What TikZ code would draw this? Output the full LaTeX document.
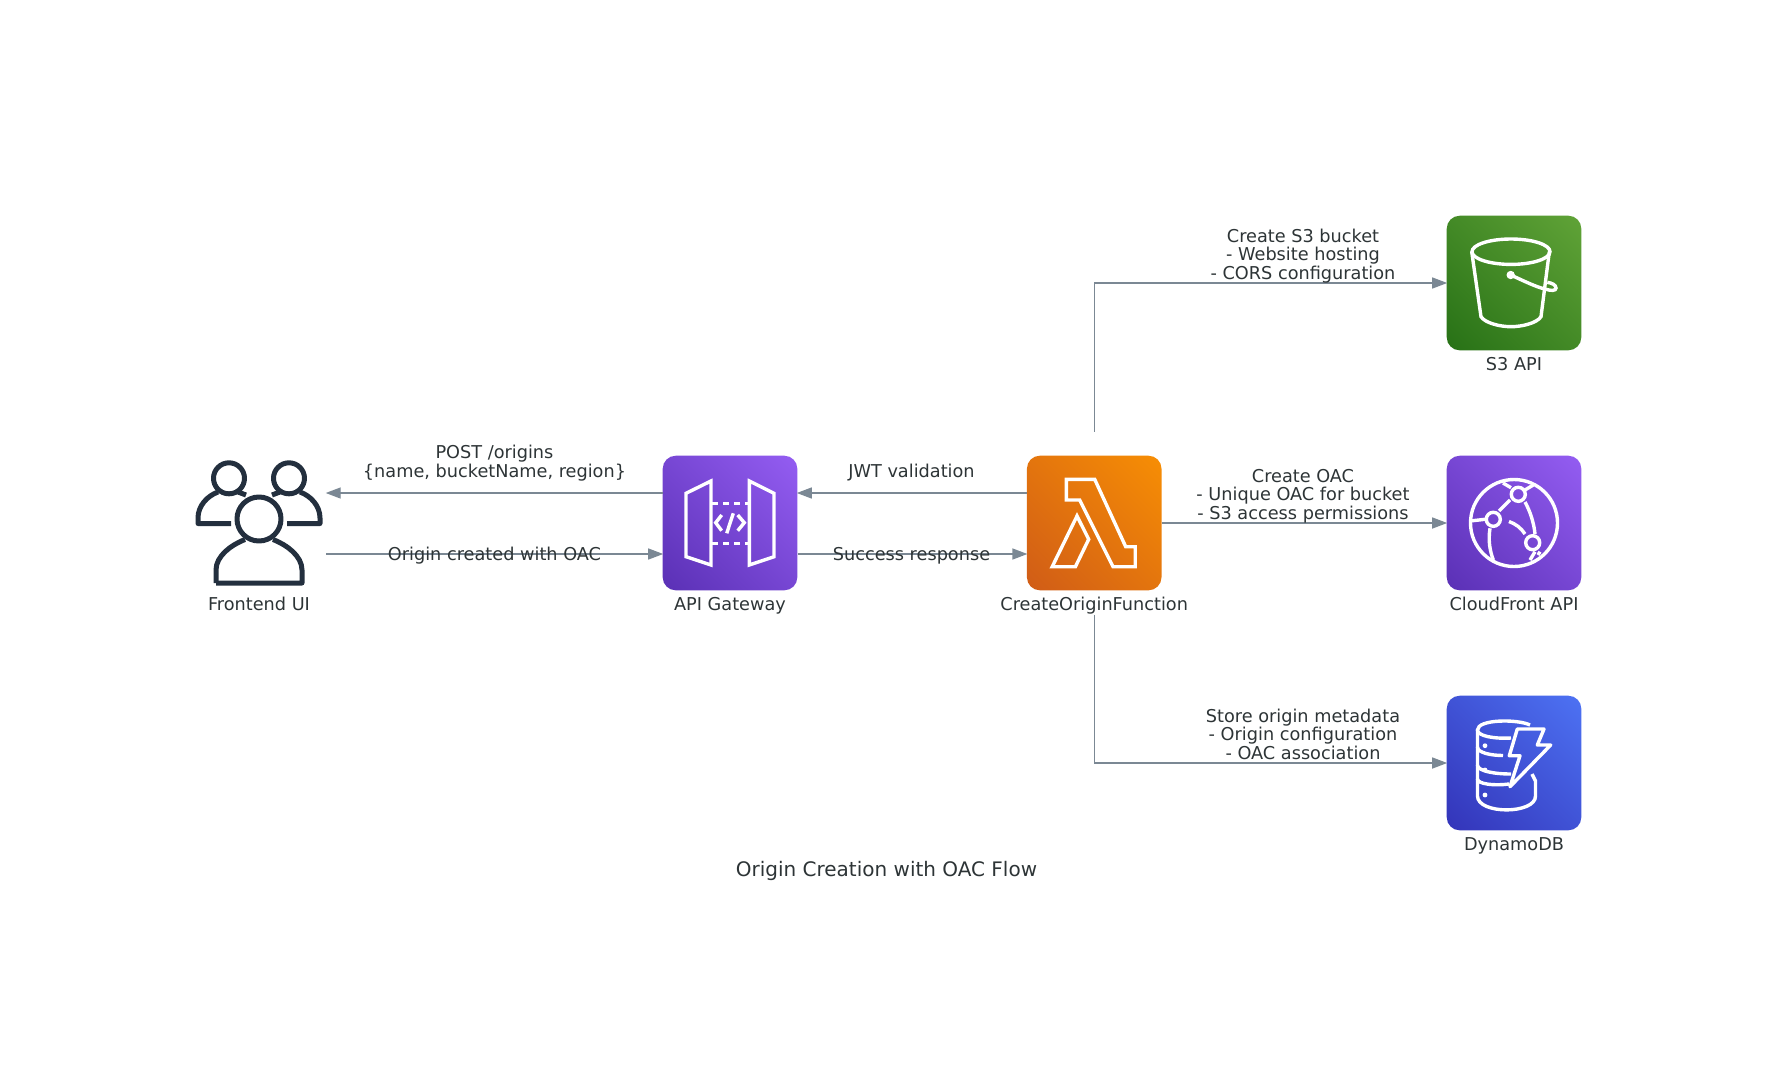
\documentclass[tikz,border=0pt]{standalone}
\usepackage{fontspec}
\setmainfont{DejaVu Sans}
\usetikzlibrary{positioning,arrows.meta}
\definecolor{flowgray}{HTML}{7B8894}
\definecolor{textdark}{HTML}{2D3436}
\definecolor{usersdark}{HTML}{232F3E}
\definecolor{s3dark}{HTML}{277116}
\definecolor{s3light}{HTML}{60A337}
\definecolor{violetdark}{HTML}{5A30B5}
\definecolor{violetlight}{HTML}{945DF2}
\definecolor{lambdadark}{HTML}{D05C17}
\definecolor{lambdalight}{HTML}{F78E04}
\definecolor{dynamodark}{HTML}{3334B9}
\definecolor{dynamolight}{HTML}{4D72F3}
\pgfdeclarehorizontalshading{s3shade}{100bp}{color(0bp)=(s3dark); color(14.6bp)=(s3dark); color(85.4bp)=(s3light); color(100bp)=(s3light)}
\pgfdeclarehorizontalshading{violetshade}{100bp}{color(0bp)=(violetdark); color(14.6bp)=(violetdark); color(85.4bp)=(violetlight); color(100bp)=(violetlight)}
\pgfdeclarehorizontalshading{lambdashade}{100bp}{color(0bp)=(lambdadark); color(14.6bp)=(lambdadark); color(85.4bp)=(lambdalight); color(100bp)=(lambdalight)}
\pgfdeclarehorizontalshading{dynamoshade}{100bp}{color(0bp)=(dynamodark); color(14.6bp)=(dynamodark); color(85.4bp)=(dynamolight); color(100bp)=(dynamolight)}
\tikzset{
	iconbox/.style={shape=rectangle,minimum size=134.6pt,inner sep=0pt,rounded corners=13pt,shade,shading angle=45},
	caption/.style={text=textdark,font=\fontsize{17.7}{18.5}\selectfont,inner sep=0pt,text height=13.5pt,text depth=3.5pt},
	flowtext/.style={text=textdark,font=\fontsize{17.7}{18.5}\selectfont,inner sep=0pt,align=center},
	flow/.style={draw=flowgray,line width=1.4pt,shorten >=-0.7pt,-{Triangle[length=15pt,width=11pt]}},
	glyph/.style={draw=white,line width=3.4pt,line join=miter},
	userglyph/.style={draw=usersdark,line width=5pt,line join=round}
}
\begin{document}
\begin{tikzpicture}[x=1pt,y=-1pt]
	\useasboundingbox (0,0) rectangle (1773,1080);
	\node[shape=rectangle,minimum size=134.4pt,inner sep=0pt] (frontend) at (259,523) {};
	\node[iconbox,shading=violetshade] (api) at (730,523) {};
	\node[iconbox,shading=lambdashade] (lambda) at (1094.2,523) {};
	\node[iconbox,shading=s3shade] (s3) at (1514,283) {};
	\node[iconbox,shading=violetshade] (cloudfront) at (1514,523) {};
	\node[iconbox,shading=dynamoshade] (dynamo) at (1514,763) {};
	\coordinate[above=24pt of lambda] (lambdatop);
	\coordinate[below=24pt of lambda] (lambdabottom);
	\node[caption,below=6pt of frontend] (frontendcap) {Frontend UI};
	\node[caption,below=6pt of api] (apicap) {API Gateway};
	\node[caption,below=6pt of lambda] (lambdacap) {CreateOriginFunction};
	\node[caption,below=6pt of s3] (s3cap) {S3 API};
	\node[caption,below=6pt of cloudfront] (cloudfrontcap) {CloudFront API};
	\node[caption,below=6pt of dynamo] (dynamocap) {DynamoDB};
	\path[flow] ([yshift=30pt]api.west) -- ([yshift=30pt]frontend.east);
	\path[flow] ([yshift=-31pt]frontend.east) -- ([yshift=-31pt]api.west);
	\path[flow] ([yshift=30pt]lambda.west) -- ([yshift=30pt]api.east);
	\path[flow] ([yshift=-31pt]api.east) -- ([yshift=-31pt]lambda.west);
	\path[flow] (lambdatop) |- (s3.west);
	\path[flow] (lambda.east) -- (cloudfront.west);
	\path[flow] (lambdabottom) |- (dynamo.west);
	\node[flowtext] (postlabel) at (494.5,463.2) {POST /origins\\\{name, bucketName, region\}};
	\node[flowtext] (donelabel) at (494.5,555.5) {Origin created with OAC};
	\node[flowtext] (jwtlabel) at (911.5,473) {JWT validation};
	\node[flowtext] (successlabel) at (911.5,555.5) {Success response};
	\node[flowtext] (bucketlabel) at (1303,255.8) {Create S3 bucket\\- Website hosting\\- CORS configuration};
	\node[flowtext] (oaclabel) at (1303,495.8) {Create OAC\\- Unique OAC for bucket\\- S3 access permissions};
	\node[flowtext] (storelabel) at (1303,734) {Store origin metadata\\- Origin configuration\\- OAC association};
	\node[text=textdark,font=\fontsize{20}{22}\selectfont,inner sep=0pt] (title) at (886.5,870.5) {Origin Creation with OAC Flow};
	\begin{scope}[shift={(frontend.center)}]
		\path[userglyph] (0,-4) circle (22);
		\path[userglyph] (-43,60) -- (43,60) -- (43,47) .. controls (43,33) and (28,22) .. (14,16.5);
		\path[userglyph] (-43,60) -- (-43,47) .. controls (-43,33) and (-28,22) .. (-14,16.5);
		\path[userglyph] (-30,-44.7) circle (15.5);
		\path[userglyph] (30,-44.7) circle (15.5);
		\path[userglyph] (-28,0.5) -- (-61,0.5) -- (-61,-5) .. controls (-61,-17) and (-52,-27) .. (-41,-31);
		\path[userglyph] (28,0.5) -- (61,0.5) -- (61,-5) .. controls (61,-17) and (52,-27) .. (41,-31);
		\path[userglyph] (-21,-31) -- (-13,-28);
		\path[userglyph] (21,-31) -- (13,-28);
	\end{scope}
	\begin{scope}[shift={(api.center)}]
		\path[glyph] (-44,-29.7) -- (-19,-42) -- (-19,42) -- (-44,33.7) -- cycle;
		\path[glyph] (19.3,-42) -- (44,-29.7) -- (44,33.7) -- (19.3,42) -- cycle;
		\path[glyph,dash pattern=on 6pt off 5pt] (-18,-19.7) -- (18,-19.7);
		\path[glyph,dash pattern=on 6pt off 5pt] (-18,20.3) -- (18,20.3);
		\path[glyph] (-8.3,-8) -- (-14.3,-0.3) -- (-8.3,7.7);
		\path[glyph] (7.7,-8) -- (14.3,-0.3) -- (7.7,7.7);
		\path[glyph] (3.3,-9.7) -- (-3.3,10.3);
	\end{scope}
	\begin{scope}[shift={(lambda.center)}]
		\path[glyph] (-27.8,-43.7) -- (0.5,-43.7) -- (31.5,23.7) -- (41,23.7) -- (41,43.7) -- (18.8,43.7) -- (-14.5,-23) -- (-27.8,-23) -- cycle;
		\path[glyph] (-17.2,-7) -- (-5.5,16.3) -- (-18.8,43.7) -- (-42,43.7) -- cycle;
	\end{scope}
	\begin{scope}[shift={(s3.center)}]
		\path[glyph] (-3,-31.3) ellipse (39 and 12.7);
		\path[glyph] (-42.3,-31.3) -- (-33,33.7) .. controls (-29,40) and (-14,43.7) .. (-3,43.7) .. controls (8,43.7) and (23,40) .. (27,33.7) -- (35.3,-31.3);
		\path[glyph] (-3.3,-8) .. controls (10,-2) and (22,4) .. (31,6) .. controls (37,8) and (42,8) .. (42,5) .. controls (42,2) and (38,0) .. (33.3,-0.7);
		\path[fill=white] (-3.3,-8) circle (4.2);
	\end{scope}
	\begin{scope}[shift={(cloudfront.center)}]
		\path[glyph] (0,0) circle (43.5);
		\path[glyph] (4.3,-28.7) circle (7);
		\path[glyph] (-20.7,-3.7) circle (7);
		\path[glyph] (18.7,19.7) circle (7);
		\path[glyph] (-4,-23) -- (-15,-12);
		\path[glyph] (-5,-1.5) .. controls (2,1) and (7,5) .. (11,11);
		\path[glyph] (11,-21) .. controls (16,-12) and (20,0) .. (21,11);
		\path[glyph] (-24,5.3) .. controls (-26,18) and (-24,28) .. (-20.7,37);
		\path[glyph] (-44,-2) -- (-29,-3.7);
		\path[glyph] (-11,-40) -- (-3,-35.3);
		\path[glyph] (11,-33) -- (19.3,-38);
		\path[glyph] (16,37) -- (21,28.7);
		\path[glyph] (26,28.7) -- (24,32);
	\end{scope}
	\begin{scope}[shift={(dynamo.center)}]
		\path[glyph] (16,-38) .. controls (4,-44) and (-36.5,-44) .. (-36.5,-33) .. controls (-36.5,-27) and (-20,-24) .. (-3,-25);
		\path[glyph] (-36.5,-33) -- (-36.5,-16) .. controls (-36.5,-10) and (-22,-7.5) .. (-11,-7.5);
		\path[glyph] (-36.5,-16) -- (-36.5,2) .. controls (-36.5,8) and (-20,11) .. (-3,11);
		\path[glyph] (-36.5,2) -- (-36.5,16) .. controls (-36.5,21) and (-20,23) .. (-5,21);
		\path[glyph] (-36.5,16) -- (-36.5,33) .. controls (-36.5,51.5) and (21.5,51.5) .. (21.5,33) -- (21.5,18) -- (18,11);
		\path[glyph,line join=round] (3.3,-34) -- (30,-34) -- (23.3,-18) -- (36.7,-18) -- (-4,23.7) -- (6,-7.3) -- (-4.7,-7.3) -- cycle;
		\path[fill=white] (-29,-17.3) circle (2.4);
		\path[fill=white] (-29,7) circle (2.4);
		\path[fill=white] (-29,32) circle (2.4);
	\end{scope}
\end{tikzpicture}
\end{document}
